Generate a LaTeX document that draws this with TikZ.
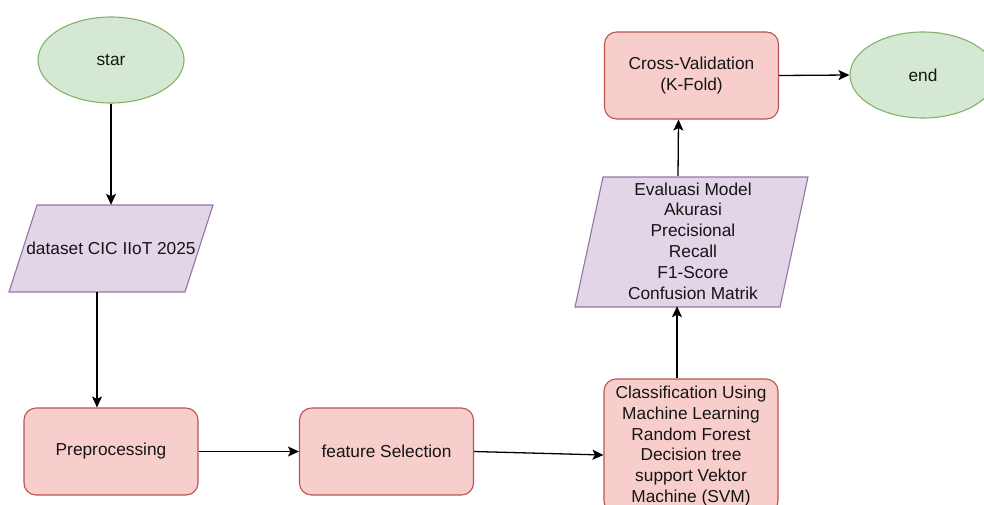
\documentclass[tikz,border=0pt]{standalone}
\usepackage{fontspec}
\setmainfont{Liberation Sans}
\usetikzlibrary{arrows.meta,shapes.geometric,calc}
\definecolor{gfill}{HTML}{D5E8D4}
\definecolor{gline}{HTML}{82B366}
\definecolor{rfill}{HTML}{F8CECC}
\definecolor{rline}{HTML}{B85450}
\definecolor{pfill}{HTML}{E1D5E7}
\definecolor{pline}{HTML}{9673A6}
\definecolor{txt}{HTML}{151515}
\tikzset{
  x=1pt, y=-1pt,
  every node/.style={font=\fontsize{17.3}{20.8}\selectfont, text=txt, align=center},
  term/.style={ellipse, draw=gline, fill=gfill, line width=1.1pt, minimum width=146pt, minimum height=86pt, inner sep=0pt},
  proc/.style={rectangle, rounded corners=12pt, draw=rline, fill=rfill, line width=1.1pt, minimum width=174pt, minimum height=87pt, inner sep=0pt},
  iobox/.style={draw=pline, fill=pfill, line width=1.1pt},
  plain/.style={rectangle, inner sep=0pt},
  arr/.style={draw=black, line width=1.3pt, -{Stealth[length=11pt,width=10pt,inset=2.5pt]}}
}
\begin{document}
\begin{tikzpicture}
\useasboundingbox (0,0) rectangle (984,504);
% terminals
\node[term] (star) at (111,60) {star};
\node[term] (end) at (923,75) {end};
% parallelograms
\path[iobox] (37,205) -- (213,205) -- (185,292) -- (9,292) -- cycle;
\node[plain, minimum width=176pt, minimum height=87pt] (data) at (111,248.5) {dataset CIC IIoT 2025};
\path[iobox] (603,177) -- (808,177) -- (780,307) -- (575,307) -- cycle;
\node[plain, minimum width=205pt, minimum height=130pt] (eval) at (693,241) {Evaluasi Model\\Akurasi\\Precisional\\Recall\\F1-Score\\Confusion Matrik};
% processes
\node[proc] (pre) at (111,451.5) {Preprocessing};
\node[proc] (feat) at (386.5,451.5) {feature Selection};
\node[proc, minimum height=134pt] (class) at (691,446) {Classification Using\\Machine Learning\\Random Forest\\Decision tree\\support Vektor\\Machine (SVM)};
\node[proc] (cross) at (691.5,75.5) {Cross-Validation\\(K-Fold)};
% connectors
\draw[arr] (star.south) -- (data.north);
\draw[arr] ([xshift=-14pt]data.south) -- ([xshift=-14pt]pre.north);
\draw[arr] (pre.east) -- (feat.west);
\coordinate (cin) at ($(class.west)+(0,-9pt)$);
\draw[arr] (feat.east) -- (cin);
\draw[arr] ([xshift=-14pt]class.north) -- ([xshift=-16pt]eval.south);
\draw[arr] ([xshift=-15pt]eval.north) -- ([xshift=-13pt]cross.south);
\draw[arr] (cross.east) -- (end.west);
\end{tikzpicture}
\end{document}
